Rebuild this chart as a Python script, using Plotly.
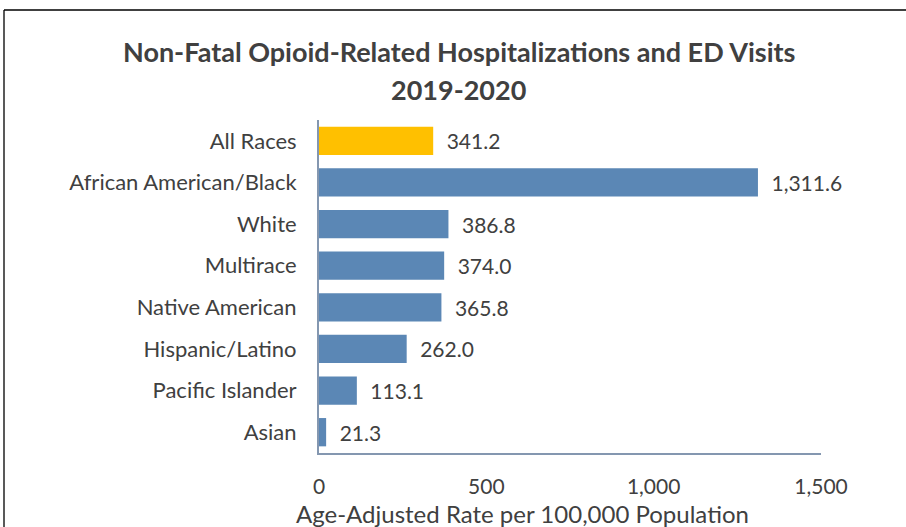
import plotly.graph_objects as go

categories = ["All Races", "African American/Black", "White", "Multirace",
              "Native American", "Hispanic/Latino", "Pacific Islander", "Asian"]
values = [341.2, 1311.6, 386.8, 374.0, 365.8, 262.0, 113.1, 21.3]
bar_colors = ["#FFC000"] + ["#5B87B5"] * 7
tick_vals = [0, 500, 1000, 1500]
tick_text = ["0", "500", "1,000", "1,500"]
title_lines = ["Non-Fatal Opioid-Related Hospitalizations and ED Visits", "2019-2020"]
x_title = "Age-Adjusted Rate per 100,000 Population"

W, H = 906, 527
ML, MR, MT, MB = 319, 85, 120, 74
PW, PH = W - ML - MR, H - MT - MB

def px(x):
    return (x - ML) / PW

def py(y):
    return (H - MB - y) / PH

FONT = "Lato, Carlito, Calibri, sans-serif"
TXT = "#404040"

fig = go.Figure(go.Bar(
    y=categories, x=values, orientation="h",
    marker=dict(color=bar_colors, line=dict(width=0)),
    width=0.68,
    text=["\u2002" + f"{v:,.1f}" for v in values],
    textposition="outside", cliponaxis=False,
    textfont=dict(family=FONT, size=21, color=TXT),
))

fig.update_layout(
    width=W, height=H, margin=dict(l=ML, r=MR, t=MT, b=MB, autoexpand=False),
    plot_bgcolor="white", paper_bgcolor="white", showlegend=False,
    font=dict(family=FONT, color=TXT),
    xaxis=dict(range=[0, 1500], tickvals=tick_vals, ticktext=tick_text,
               showgrid=False, zeroline=False, showline=True,
               linecolor="#8497B0", linewidth=2, automargin=False,
               tickfont=dict(size=21, color=TXT), ticks="",
               ticklabelstandoff=14),
    yaxis=dict(autorange="reversed", showgrid=False, zeroline=False,
               showline=True, linecolor="#8497B0", linewidth=2, automargin=False,
               tickfont=dict(size=22, color=TXT), ticks="",
               ticklabelstandoff=16),
    bargap=0.32,
)

fig.add_annotation(text=x_title, xref="paper", yref="paper",
                   x=px(522), y=py(513), showarrow=False,
                   font=dict(family=FONT, size=24, color=TXT), xanchor="center", yanchor="middle")
fig.add_annotation(text="<b>" + title_lines[0] + "</b>", xref="paper", yref="paper",
                   x=px(458.5), y=py(52), showarrow=False,
                   font=dict(family=FONT, size=27, color=TXT), xanchor="center", yanchor="middle")
fig.add_annotation(text="<b>" + title_lines[1] + "</b>", xref="paper", yref="paper",
                   x=px(458.5), y=py(89), showarrow=False,
                   font=dict(family=FONT, size=27, color=TXT), xanchor="center", yanchor="middle")

fig.add_shape(type="line", xref="paper", yref="paper",
              x0=px(4), x1=px(4), y0=py(10), y1=py(530),
              line=dict(color="#595959", width=2))
fig.add_shape(type="line", xref="paper", yref="paper",
              x0=px(4), x1=px(910), y0=py(10), y1=py(10),
              line=dict(color="#000000", width=1.5))

fig.write_html("out.html")
